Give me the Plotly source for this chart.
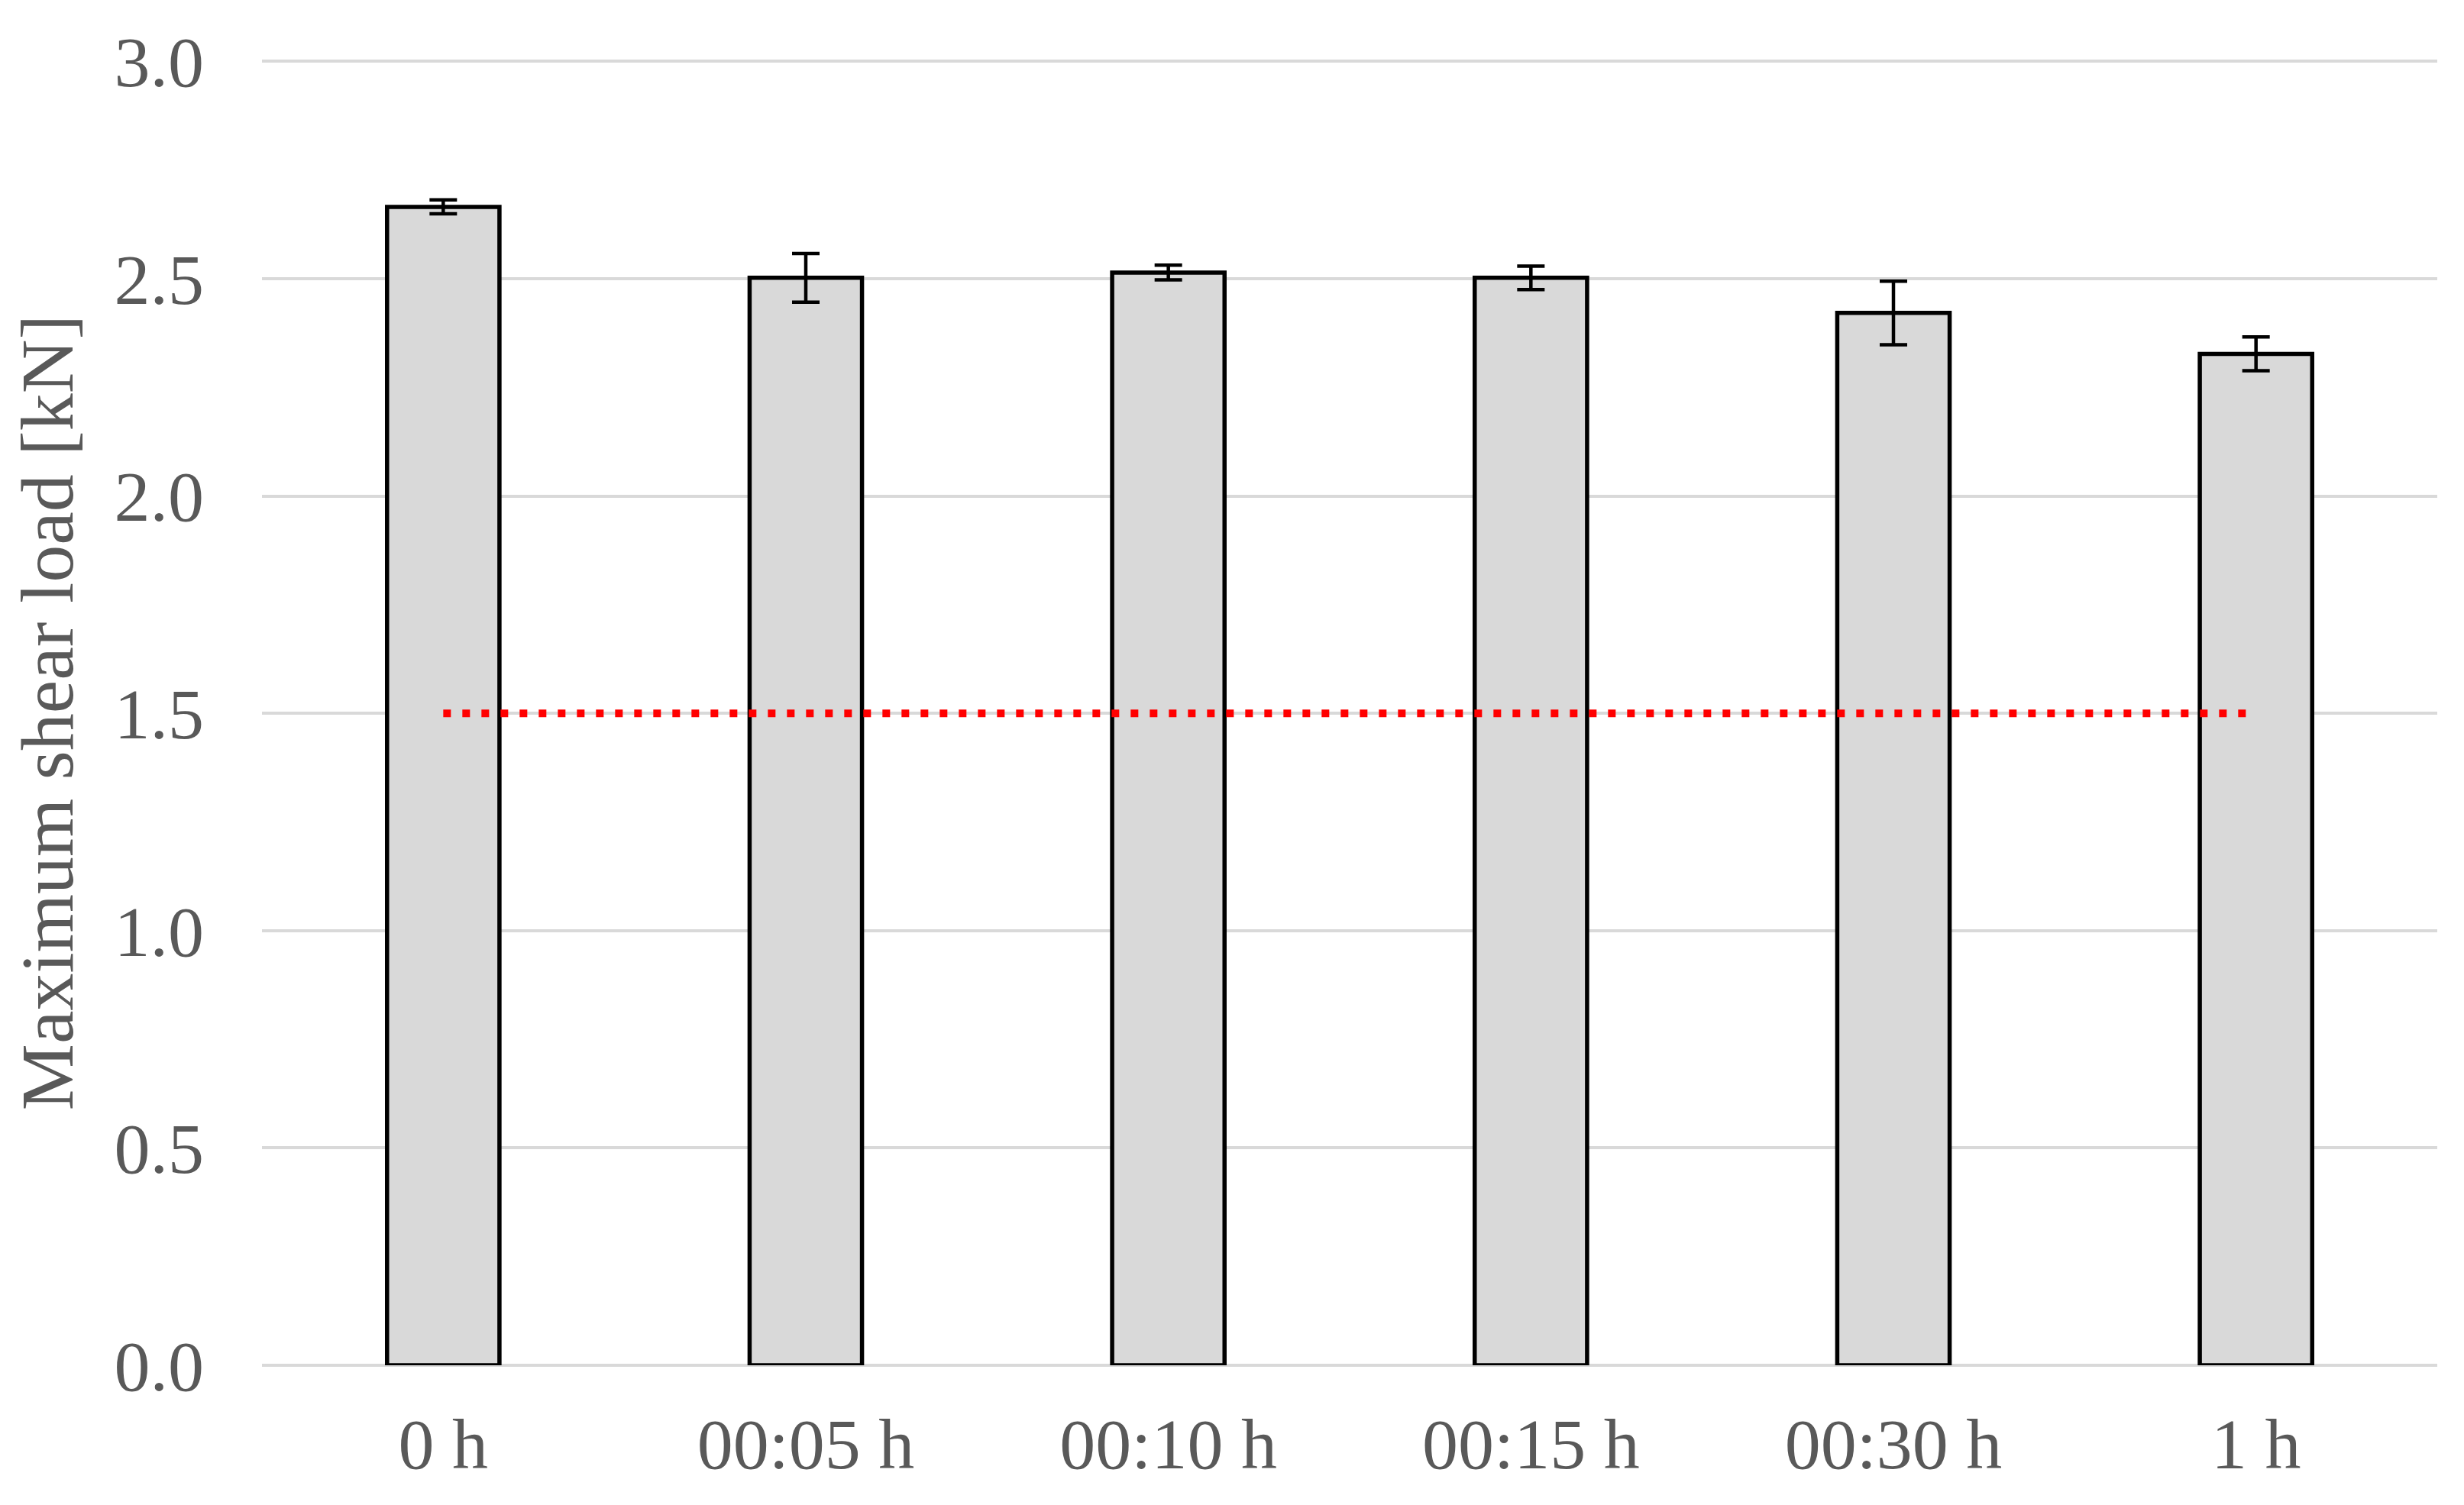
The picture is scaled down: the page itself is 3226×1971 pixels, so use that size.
import plotly.graph_objects as go

categories = ["0 h", "00:05 h", "00:10 h", "00:15 h", "00:30 h", "1 h"]
shear_load = [2.665, 2.502, 2.514, 2.502, 2.421, 2.327]
shear_err = [0.016, 0.056, 0.017, 0.027, 0.073, 0.039]
threshold = [1.5, 1.5, 1.5, 1.5, 1.5, 1.5]
y_ticks = [0.0, 0.5, 1.0, 1.5, 2.0, 2.5, 3.0]

font_family = "Liberation Serif, Times New Roman, serif"
text_color = "#595959"
grid_color = "#d9d9d9"

fig = go.Figure()
fig.add_trace(go.Bar(
    x=categories, y=shear_load,
    marker=dict(color="#d9d9d9", line=dict(color="black", width=5.5)),
    width=0.31,
    error_y=dict(type="data", array=shear_err, visible=True,
                 color="black", thickness=4.5, width=18),
    showlegend=False,
))
fig.add_trace(go.Scatter(
    x=categories, y=threshold, mode="lines",
    line=dict(color="#ff0000", width=10, dash="10px,15px"),
    showlegend=False,
))

fig.update_layout(
    width=3226, height=1971,
    paper_bgcolor="white", plot_bgcolor="white",
    margin=dict(l=335, r=43, t=70, b=191),
    font=dict(family=font_family, color=text_color, size=94),
    bargap=0.69,
)
fig.update_xaxes(
    showgrid=False, showline=False, zeroline=False,
    ticks="", ticklabelstandoff=40,
    tickfont=dict(family=font_family, size=94, color=text_color),
)
fig.update_yaxes(
    range=[0, 3.004], tickvals=y_ticks, tickformat=".1f",
    showgrid=True, gridcolor=grid_color, gridwidth=4,
    zeroline=True, zerolinecolor=grid_color, zerolinewidth=4,
    showline=False, ticks="", ticklabelstandoff=75,
    tickfont=dict(family=font_family, size=94, color=text_color),
    title=dict(text="Maximum shear load [kN]", standoff=25,
               font=dict(family=font_family, size=98, color=text_color)),
)

fig.write_html("out.html")
